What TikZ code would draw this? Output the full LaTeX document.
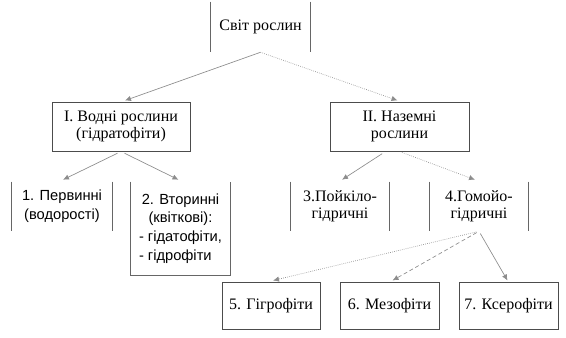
\documentclass[tikz,border=0pt]{standalone}
\usepackage{fontspec}
\newfontfamily\timesfont{Liberation Serif}
\newfontfamily\arialfont{Liberation Sans}
\usetikzlibrary{arrows.meta, positioning, calc}

\begin{document}
\begin{tikzpicture}[
  x=0.75pt, y=-0.75pt,
  every node/.style={font=\timesfont\fontsize{12}{12.5}\selectfont},
  box/.style={draw=black!70, line width=0.75pt, align=center, inner sep=0pt},
  barnode/.style={align=center, inner sep=0pt},
  sansnode/.style={barnode, font=\arialfont\fontsize{11}{14}\selectfont},
  bar/.style={draw=black!60, line width=0.75pt},
  conn/.style={draw=black!45, line width=0.5pt, -{Latex[length=4.5pt,width=4pt]}},
  dotconn/.style={conn, densely dotted},
  dashconn/.style={conn, dash pattern=on 3pt off 2pt}
]
  \useasboundingbox (0,0) rectangle (566,337);

  % top level
  \node[barnode, minimum width=74.25pt, minimum height=37.5pt] (svit) at (260.5,27) {Світ рослин};
  \draw[bar] (svit.north west) -- (svit.south west) (svit.north east) -- (svit.south east);

  % second level
  \node[box, minimum width=103.5pt, minimum height=36.75pt] (vodni) at (121,126.5)
    {I. Водні рослини\\(гідратофіти)};
  \node[box, minimum width=104.25pt, minimum height=36.75pt] (nazemni) at (399.5,126.5)
    {II. Наземні\\рослини};

  % third level
  \node[sansnode, minimum width=75pt, minimum height=36.75pt] (pervynni) at (62,206.5)
    {1. Первинні\\(водорості)};
  \draw[bar] (pervynni.north west) -- (pervynni.south west) (pervynni.north east) -- (pervynni.south east);

  \node[sansnode, minimum width=74.25pt, minimum height=69.75pt] (vtorynni) at (180.5,228.5)
    {\renewcommand{\arraystretch}{1}%
     \begin{tabular}{@{}l@{}}
       \multicolumn{1}{@{}c@{}}{2. Вторинні}\\
       \multicolumn{1}{@{}c@{}}{(квіткові):}\\
       - гідатофіти,\\
       - гідрофіти
     \end{tabular}};
  \draw[bar] (vtorynni.north west) |- (vtorynni.south east) -- (vtorynni.north east);

  \node[barnode, minimum width=73.5pt, minimum height=36.75pt] (poikilo) at (340,206.5)
    {3.Пойкіло-\\гідричні};
  \draw[bar] (poikilo.north west) -- (poikilo.south west) (poikilo.north east) -- (poikilo.south east);

  \node[barnode, minimum width=73.5pt, minimum height=36.75pt] (homoio) at (479,206.5)
    {4.Гомойо-\\гідричні};
  \draw[bar] (homoio.north west) -- (homoio.south west) (homoio.north east) -- (homoio.south east);

  % fourth level
  \node[box, minimum width=73.5pt, minimum height=35.25pt] (hihro) at (271,305.5) {5. Гігрофіти};
  \node[box, minimum width=74.25pt, minimum height=35.25pt] (mezo) at (389.5,305.5) {6. Мезофіти};
  \node[box, minimum width=74.25pt, minimum height=35.25pt] (ksero) at (508.5,305.5) {7. Ксерофіти};

  % connectors
  \draw[conn] (svit.south) -- ($(vodni.north)+(4,-1)$);
  \draw[dotconn] (svit.south) -- ($(nazemni.north)+(-2,-1)$);
  \draw[conn, shorten <=3pt] (vodni.south) -- ($(pervynni.north)+(1,-2)$);
  \draw[conn, shorten <=3pt] (vodni.south) -- ($(vtorynni.north)+(-2,-2)$);
  \draw[conn, shorten <=3pt] ($(nazemni.south)+(-14,0)$) -- ($(poikilo.north)+(2,-2)$);
  \draw[dotconn, shorten <=2pt] (nazemni.south) -- ($(homoio.north)+(-4,-2)$);
  \draw[dotconn, shorten <=2pt] (homoio.south) -- ($(hihro.north)+(2,-1)$);
  \draw[dashconn, shorten <=2pt] (homoio.south) -- ($(mezo.north)+(3,-1)$);
  \draw[conn, shorten <=2pt] (homoio.south) -- ($(ksero.north)+(-1,-1)$);
\end{tikzpicture}
\end{document}
